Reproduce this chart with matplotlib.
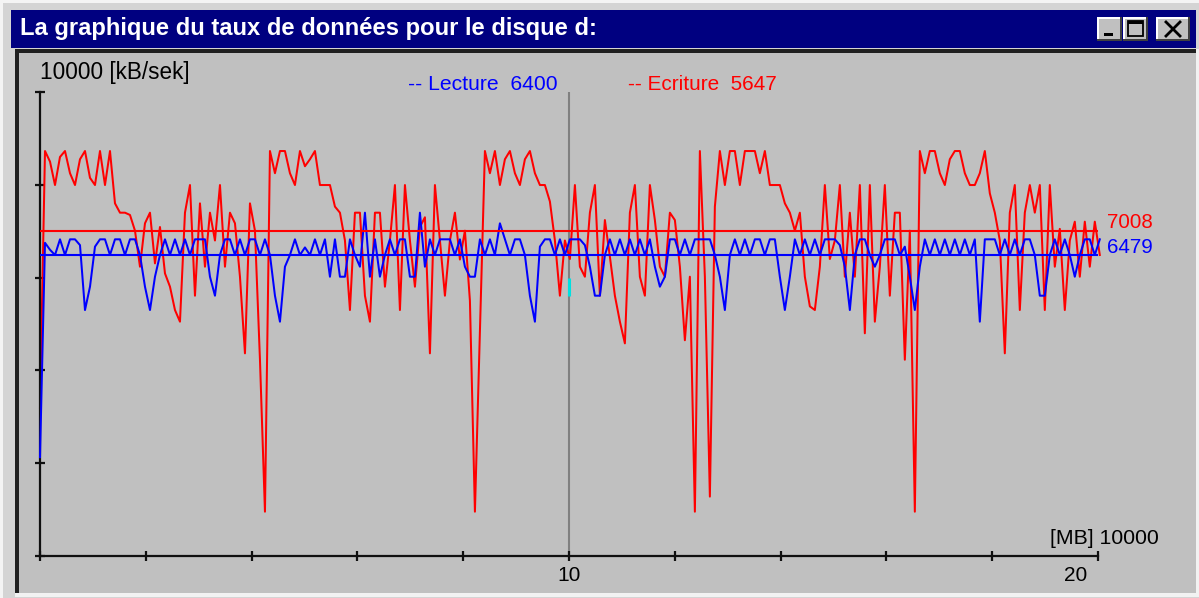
import numpy as np
import matplotlib
matplotlib.use("Agg")
import matplotlib.pyplot as plt
from matplotlib.patches import Rectangle
from matplotlib.transforms import ScaledTranslation

# ---------------- data ----------------
title = "La graphique du taux de données pour le disque d:"
y_unit_label = "10000 [kB/sek]"
x_unit_label = "[MB] 10000"
read_label = "-- Lecture  6400"
write_label = "-- Ecriture  5647"
read_avg = 6479
write_avg = 7008
x_ticks = [0, 2, 4, 6, 8, 10, 12, 14, 16, 18, 20]
x_tick_labels = ["", "", "", "", "", "10", "", "", "", "", "20"]
y_ticks = [0, 2000, 4000, 6000, 8000, 10000]
cursor_x = 10
cursor_marker = [5600, 6000]
sample_step = 0.0945  # x units between samples

write_rate = [
    3200, 8728, 8500, 7995, 8600, 8728, 8250, 7995, 8550, 8728,
    8150, 7995, 8728, 7995, 8728, 7600, 7399, 7399, 7350, 7011,
    6235, 7170, 7399, 6307, 7090, 6090, 5804, 5301, 5050, 7399,
    7995, 5610, 7600, 6235, 7399, 6800, 7995, 6235, 7399, 7170,
    6019, 4368, 7600, 7011, 4230, 955, 8728, 8250, 8728, 8728,
    8250, 7995, 8728, 8400, 8550, 8728, 7995, 7995, 7995, 7530,
    7399, 6800, 5301, 7399, 7399, 5610, 5050, 7399, 7399, 5804,
    6800, 7995, 5301, 7995, 6800, 5804, 7090, 7300, 4368, 7995,
    6800, 5610, 6800, 7399, 6390, 7011, 5500, 955, 4800, 8728,
    8250, 8728, 7995, 8550, 8728, 8250, 7995, 8550, 8728, 8250,
    7995, 7995, 7640, 6800, 5610, 6800, 6400, 7995, 6235, 6019,
    7399, 7995, 5610, 7240, 6450, 5610, 5050, 4583, 7399, 7995,
    6019, 5610, 7995, 7240, 6235, 6019, 7399, 7240, 6235, 4650,
    6019, 955, 8728, 6019, 1280, 7530, 8728, 7995, 8728, 8728,
    7995, 8728, 8728, 8728, 8250, 8728, 7995, 7995, 7995, 7600,
    7399, 7011, 7399, 6019, 5380, 5301, 6235, 7995, 6400, 6800,
    7995, 6019, 7399, 6019, 7995, 4800, 7995, 5050, 6235, 7995,
    5610, 7399, 7399, 4230, 7011, 955, 8728, 8250, 8728, 8728,
    8250, 7995, 8550, 8728, 8728, 8250, 7995, 7995, 8250, 8728,
    7816, 7399, 6800, 4368, 7399, 7995, 5301, 7399, 7995, 7399,
    7995, 5301, 7995, 6235, 7050, 5301, 6800, 7205, 6019, 7205,
    6235, 7205, 6487,
]

read_rate = [
    2130, 6750, 6600, 6487, 6825, 6487, 6825, 6825, 6700, 5301,
    5804, 6667, 6825, 6825, 6487, 6825, 6825, 6487, 6825, 6825,
    6487, 5804, 5301, 6019, 6487, 6825, 6487, 6825, 6487, 6825,
    6487, 6825, 6825, 6825, 6019, 5610, 6487, 6825, 6825, 6487,
    6825, 6487, 6825, 6825, 6487, 6825, 6487, 5610, 5050, 6235,
    6487, 6825, 6487, 6650, 6487, 6825, 6487, 6825, 6019, 6825,
    6019, 6019, 6825, 6487, 6235, 7399, 6019, 6825, 6019, 6487,
    6825, 6487, 6825, 6825, 6019, 6019, 7399, 6235, 6825, 6487,
    6825, 6825, 6825, 6487, 6825, 6235, 6019, 6019, 6825, 6487,
    6825, 6487, 7170, 6825, 6487, 6825, 6825, 6487, 5610, 5050,
    6667, 6825, 6825, 6487, 6825, 6487, 6825, 6825, 6825, 6700,
    6235, 5610, 5610, 6487, 6825, 6487, 6825, 6487, 6825, 6487,
    6825, 6487, 6825, 6235, 5804, 6019, 6825, 6825, 6487, 6825,
    6487, 6825, 6825, 6825, 6825, 6487, 6019, 5301, 6487, 6825,
    6487, 6825, 6487, 6825, 6825, 6487, 6825, 6825, 6019, 5301,
    6019, 6825, 6487, 6825, 6487, 6825, 6487, 6825, 6825, 6825,
    6700, 6235, 5301, 6487, 6825, 6825, 6487, 6235, 6487, 6825,
    6825, 6825, 6487, 6667, 6019, 5301, 6235, 6825, 6487, 6825,
    6487, 6825, 6487, 6825, 6487, 6825, 6487, 6825, 5050, 6825,
    6825, 6825, 6487, 6825, 6487, 6825, 6487, 6825, 6825, 6487,
    5610, 5610, 6487, 6825, 6487, 6825, 6487, 6019, 6487, 6825,
    6825, 6487, 6825,
]

# ---------------- figure / window frame ----------------
W, H, DPI = 1199, 598, 100
fig = plt.figure(figsize=(W / DPI, H / DPI), dpi=DPI, facecolor="#d4d4d4")
bg = fig.add_axes([0, 0, 1, 1])
bg.set_xlim(0, W)
bg.set_ylim(H, 0)
bg.axis("off")


def rect(x0, y0, x1, y1, color, z=1, ec="none", lw=0):
    bg.add_patch(Rectangle((x0, y0), x1 - x0, y1 - y0, facecolor=color,
                           edgecolor=ec, linewidth=lw, zorder=z))


rect(0, 0, W, H, "#d4d4d4")
rect(0, 0, W, 3, "#f4f4f4")
rect(0, 0, 3, H, "#f4f4f4")
rect(11, 10, 1196, 48, "#000080")
rect(15, 49, 1197, 53, "#202020")
rect(15, 49, 19, 596, "#202020")
rect(19, 53, 1196, 593, "#c0c0c0")
rect(15, 593, 1197, 597, "#f2f2f2")
rect(1196, 49, 1199, 597, "#f2f2f2")


def button(x0, y0, x1, y1):
    rect(x0, y0, x1, y1, "#c0c0c0", z=2)
    rect(x0, y0, x1, y0 + 1.5, "#ffffff", z=3)
    rect(x0, y0, x0 + 1.5, y1, "#ffffff", z=3)
    rect(x0, y1 - 2, x1, y1, "#404040", z=3)
    rect(x1 - 2, y0, x1, y1, "#404040", z=3)


button(1097, 17, 1122, 41)
button(1123, 17, 1148, 41)
button(1156, 17, 1190, 41)
rect(1104, 33, 1113, 36, "#000000", z=4)
rect(1128, 21, 1143, 36, "none", z=4, ec="#000000", lw=1.3)
rect(1128, 21, 1143, 24, "#000000", z=4)
bg.plot([1166, 1180], [22, 36], color="#000000", lw=2.0, zorder=4)
bg.plot([1166, 1180], [36, 22], color="#000000", lw=2.0, zorder=4)

renderer = fig.canvas.get_renderer()


def fit(t, width_px):
    w = t.get_window_extent(renderer).width
    t.set_fontsize(t.get_fontsize() * width_px / w)
    return t


FONT = "Liberation Sans"
fit(bg.text(20, 29, title, color="white", fontweight="bold", family=FONT,
            fontsize=14, ha="left", va="center", zorder=5), 577)
fit(bg.text(40, 73, y_unit_label, color="black", family=FONT, fontsize=14,
            ha="left", va="center", zorder=5), 150)
fit(bg.text(408, 84, read_label, color="#0000ff", family=FONT, fontsize=14,
            ha="left", va="center", zorder=5), 150)
fit(bg.text(628, 84, write_label, color="#ff0000", family=FONT, fontsize=14,
            ha="left", va="center", zorder=5), 150)
fit(bg.text(1050, 538, x_unit_label, color="black", family=FONT, fontsize=14,
            ha="left", va="center", zorder=5), 109)

# ---------------- chart axes ----------------
x0p, x1p, y0p, y1p = 40, 1098, 556, 92
ax = fig.add_axes([x0p / W, (H - y0p) / H, (x1p - x0p) / W, (y0p - y1p) / H])
ax.patch.set_visible(False)
ax.set_xlim(0, 20)
ax.set_ylim(0, 10000)
for s in ("top", "right"):
    ax.spines[s].set_visible(False)
for s in ("left", "bottom"):
    ax.spines[s].set_color("#101010")
    ax.spines[s].set_linewidth(1.6)
ax.set_xticks(x_ticks)
ax.set_xticklabels(x_tick_labels)
ax.set_yticks(y_ticks)
ax.set_yticklabels([])
ax.tick_params(direction="inout", length=7, width=1.6, color="#101010",
               labelsize=15, pad=4)
for lab in ax.get_xticklabels():
    lab.set_family(FONT)
ax.get_xticklabels()[10].set_transform(
    ax.get_xticklabels()[10].get_transform()
    + ScaledTranslation(-0.22, 0, fig.dpi_scale_trans))

xs = np.arange(len(write_rate)) * sample_step
ax.axvline(cursor_x, color="#808080", lw=1.5, zorder=1)
ax.plot(xs, write_rate, color="#ff0000", lw=1.45, zorder=2, clip_on=False)
ax.plot(xs, read_rate, color="#0000ff", lw=1.45, zorder=3, clip_on=False)
ax.hlines(write_avg, 0, xs[-1], color="#ff0000", lw=1.5, zorder=4)
ax.hlines(read_avg, 0, xs[-1], color="#0000ff", lw=1.5, zorder=4)
ax.vlines(cursor_x, cursor_marker[0], cursor_marker[1], color="#00e0e0",
          lw=2.2, zorder=5)

t1 = ax.text(1.0, write_avg, str(write_avg), color="#ff0000", family=FONT,
             fontsize=14, ha="left", va="center", clip_on=False)
t1.set_transform(ax.get_yaxis_transform() + ScaledTranslation(0.09, 0.08, fig.dpi_scale_trans))
fit(t1, 46)
t2 = ax.text(1.0, read_avg, str(read_avg), color="#0000ff", family=FONT,
             fontsize=14, ha="left", va="center", clip_on=False)
t2.set_transform(ax.get_yaxis_transform() + ScaledTranslation(0.09, 0.08, fig.dpi_scale_trans))
fit(t2, 46)

fig.savefig("out.png", dpi=DPI, facecolor=fig.get_facecolor())
